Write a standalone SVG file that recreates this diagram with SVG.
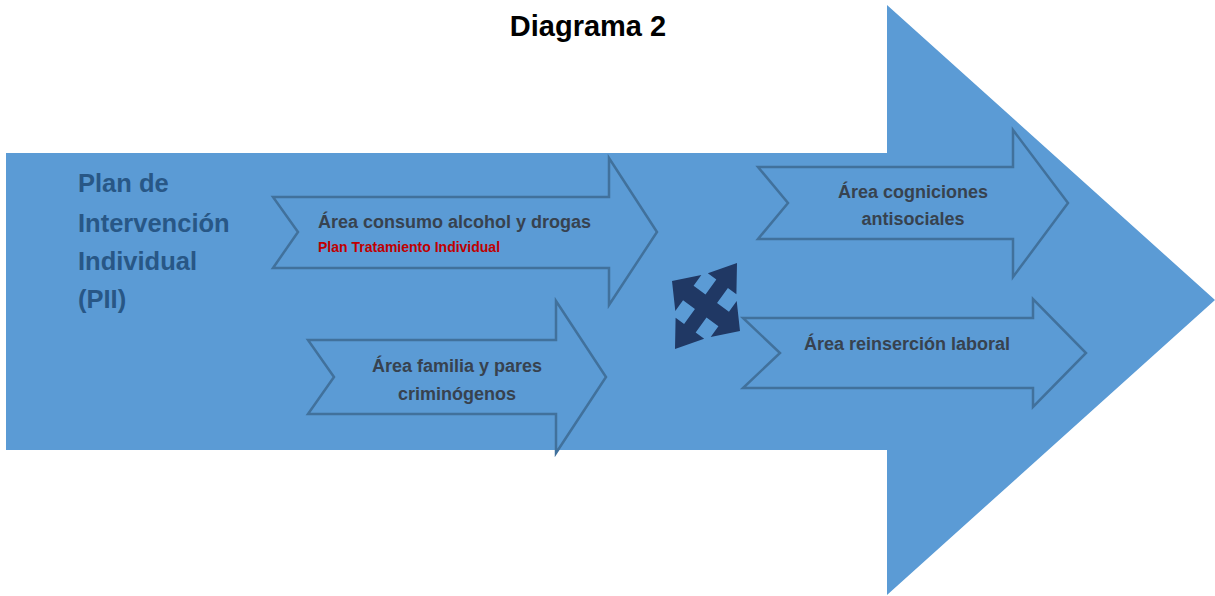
<svg xmlns="http://www.w3.org/2000/svg" width="1215" height="596" viewBox="0 0 1215 596">
  <style>
    .main { fill: #5B9BD5; }
    .area { fill: #5B9BD5; stroke: #41719C; stroke-width: 2.5; stroke-linejoin: miter; }
    .lbl { font-family: "Liberation Sans", Arial, sans-serif; font-weight: bold; font-size: 18px; fill: #37424F; }
    .sub { font-family: "Liberation Sans", Arial, sans-serif; font-weight: bold; font-size: 14px; fill: #C00000; }
    .pii { font-family: "Liberation Sans", Arial, sans-serif; font-weight: bold; font-size: 25.5px; fill: #285786; }
    .title { font-family: "Liberation Sans", Arial, sans-serif; font-weight: bold; font-size: 29px; fill: #000000; }
  </style>
  <rect x="0" y="0" width="1215" height="596" fill="#FFFFFF"/>
  <text class="title" x="588" y="36" text-anchor="middle">Diagrama 2</text>

  <g id="main-arrow">
    <polygon class="main" points="6,153 887,153 887,5 1215,300 887,595 887,450 6,450"/>
    <text class="pii" x="78" y="192">Plan de</text>
    <text class="pii" x="78" y="232">Intervención</text>
    <text class="pii" x="78" y="270">Individual</text>
    <text class="pii" x="78" y="308">(PII)</text>
  </g>

  <g id="area-consumo">
    <polygon class="area" points="273,197 609,197 609,158 657,232 609,305 609,268 273,268 298,232"/>
    <text class="lbl" x="318" y="228">Área consumo alcohol y drogas</text>
    <text class="sub" x="318" y="252">Plan Tratamiento Individual</text>
  </g>

  <g id="area-familia">
    <polygon class="area" points="308,340 556,340 556,301 606,377 556,453 556,414 308,414 334,377"/>
    <text class="lbl" x="457" y="372" text-anchor="middle">Área familia y pares</text>
    <text class="lbl" x="457" y="400" text-anchor="middle">criminógenos</text>
  </g>

  <g id="area-cogniciones">
    <polygon class="area" points="758,167 1013,167 1013,130 1068,203 1013,277 1013,239 758,239 788,203"/>
    <text class="lbl" x="913" y="198" text-anchor="middle">Área cogniciones</text>
    <text class="lbl" x="913" y="225" text-anchor="middle">antisociales</text>
  </g>

  <g id="area-reinsercion">
    <polygon class="area" points="743,318 1033,318 1033,299 1086,353 1033,407 1033,388 743,388 780,353"/>
    <text class="lbl" x="907" y="350" text-anchor="middle">Área reinserción laboral</text>
  </g>

  <g id="connectors">
    <g id="quad-arrow" transform="matrix(31,-43,34,25,706,306)">
      <polygon fill="#203864" points="1,0 0.52,0.42 0.52,0.17 0.17,0.17 0.17,0.52 0.42,0.52 0,1 -0.42,0.52 -0.17,0.52 -0.17,0.17 -0.52,0.17 -0.52,0.42 -1,0 -0.52,-0.42 -0.52,-0.17 -0.17,-0.17 -0.17,-0.52 -0.42,-0.52 0,-1 0.42,-0.52 0.17,-0.52 0.17,-0.17 0.52,-0.17 0.52,-0.42"/>
    </g>
  </g>
</svg>
